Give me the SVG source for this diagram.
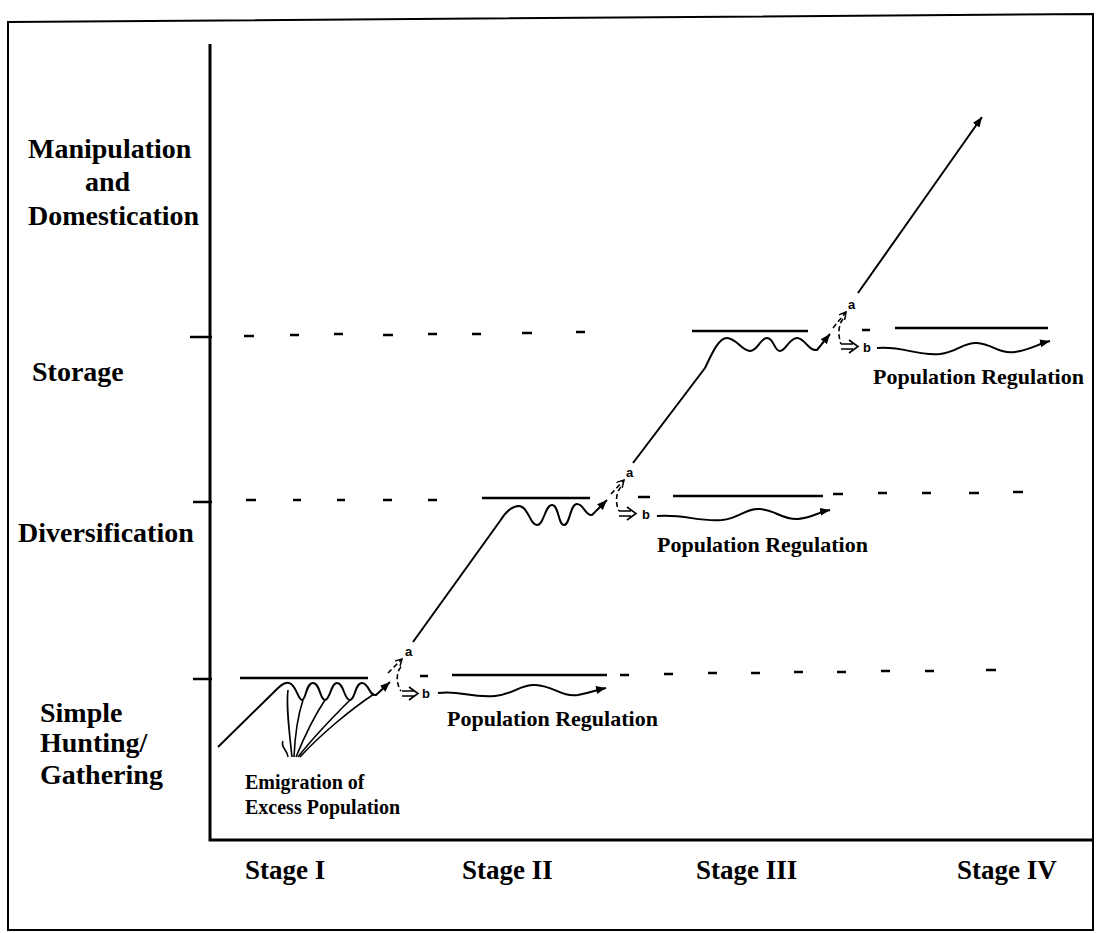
<svg xmlns="http://www.w3.org/2000/svg" width="1097" height="933" viewBox="0 0 1097 933">
<style>
.frame{fill:none;stroke:#000;stroke-width:2}
.axis{fill:none;stroke:#000;stroke-width:3}
.lvl{fill:none;stroke:#000;stroke-width:2.5}
.crv{fill:none;stroke:#000;stroke-width:2}
.thin{fill:none;stroke:#000;stroke-width:1.6}
.dsh{fill:none;stroke:#000;stroke-width:1.6;stroke-dasharray:5,3}
.lab{font-family:"Liberation Serif","Times New Roman",serif;font-weight:bold;font-size:28px;fill:#000}
.stg{font-family:"Liberation Serif","Times New Roman",serif;font-weight:bold;font-size:27px;fill:#000}
.pop{font-family:"Liberation Serif","Times New Roman",serif;font-weight:bold;font-size:22px;fill:#000}
.emi{font-family:"Liberation Serif","Times New Roman",serif;font-weight:bold;font-size:20px;fill:#000}
.ab{font-family:"Liberation Sans",Arial,sans-serif;font-weight:bold;font-size:13px;fill:#000}
</style>
<defs>
<marker id="arr" markerUnits="userSpaceOnUse" markerWidth="12" markerHeight="10" refX="10" refY="4" orient="auto">
<path d="M0,0 L10,4 L0,8 z" fill="#000"/>
</marker>
<marker id="open" markerUnits="userSpaceOnUse" markerWidth="10" markerHeight="10" refX="7" refY="4" orient="auto">
<path d="M0,0 L7,4 L0,8" fill="none" stroke="#000" stroke-width="1.5"/>
</marker>
</defs>
<rect width="1097" height="933" fill="#fff"/>
<g id="frame">
<path class="frame" d="M8,22 L1093,14 L1093,930 L8,930 Z"/>
</g>
<g id="axes">
<path class="axis" d="M210,44 L210,840 L1093,840"/>
<path class="lvl" d="M190,337 L212,337 M193,502 L212,502 M193,679 L212,679"/>
</g>
<g id="levels">
<path class="lvl" d="M244,336 h10 M290,335 h9 M334,334 h9 M383,335 h10 M428,334 h9 M472,334 h9 M522,333 h10 M576,332 h9 M862,330 h8"/>
<path class="lvl" d="M246,500 h10 M293,500 h8 M337,500 h8 M383,500 h9 M428,500 h9 M638,497 h12 M833,494 h10 M878,493 h9 M922,493 h9 M969,493 h10 M1013,492 h10"/>
<path class="lvl" d="M420,676 h8 M620,675 h9 M664,674 h9 M708,673 h9 M751,673 h9 M794,672 h9 M837,672 h9 M881,671 h9 M925,671 h9 M986,670 h10"/>
</g>
<g id="plateaus">
<path class="lvl" d="M240,678 L368,678 M452,675 L607,675"/>
<path class="lvl" d="M482,498 L590,498 M673,496 L823,496"/>
<path class="lvl" d="M692,331 L808,331 M895,328 L1048,328"/>
</g>
<g id="labels">
<text class="lab" x="28" y="158">Manipulation</text>
<text class="lab" x="85" y="191">and</text>
<text class="lab" x="28" y="225">Domestication</text>
<text class="lab" x="32" y="381">Storage</text>
<text class="lab" x="18" y="542">Diversification</text>
<text class="lab" x="40" y="722">Simple</text>
<text class="lab" x="40" y="752">Hunting/</text>
<text class="lab" x="40" y="784">Gathering</text>
<text class="stg" x="245" y="879">Stage I</text>
<text class="stg" x="462" y="879">Stage II</text>
<text class="stg" x="696" y="879">Stage III</text>
<text class="stg" x="957" y="879">Stage IV</text>
</g>
<g id="stage1">
<path class="crv" marker-end="url(#arr)" d="M218,747 L274,692 C280,686 284,682 289,683 C296,684 298,700 302,700 C306,700 306,683 313,683 C320,683 320,700 325,700 C330,700 331,683 337,683 C344,683 344,700 350,700 C355,700 355,683 362,683 C369,683 369,696 376,695 L390,682"/>
<g id="emigration">
<path class="thin" d="M292,757 C289,730 286,705 288,690 M294,757 C295,735 299,712 303,700 M296,757 C305,735 315,715 325,700 M298,757 C315,735 335,715 350,700 M300,757 C320,735 350,710 374,694 M283,741 C280,747 287,749 288,757"/>
<text class="emi" x="245" y="789">Emigration of</text>
<text class="emi" x="245" y="814">Excess Population</text>
</g>
</g>
<g id="stage2">
<path class="crv" marker-end="url(#arr)" d="M413,642 L500,521 C505,513 511,506 519,506 C528,506 530,525 537,525 C544,525 545,505 552,505 C559,505 558,525 564,525 C570,525 570,504 577,504 C584,504 585,516 592,515 L607,500"/>
</g>
<g id="stage3">
<path class="crv" marker-end="url(#arr)" d="M633,463 L705,368 C711,356 718,338 727,338 C736,338 742,351 750,351 C758,351 760,338 767,338 C774,338 774,351 780,351 C786,351 789,338 797,338 C805,338 808,351 817,350 L830,334"/>
</g>
<g id="stage4">
<path class="crv" marker-end="url(#arr)" d="M858,293 L920,205 L982,117"/>
</g>
<g id="branches">
<path class="dsh" marker-end="url(#open)" d="M388,673 L402,659"/>
<text class="ab" x="405" y="656">a</text>
<path class="dsh" d="M401,667 C396,672 396,684 401,691"/>
<path class="thin" d="M402,691 L414,691 M402,696 L414,696 M409,687 L418,693.5 L409,700"/>
<text class="ab" x="422" y="698">b</text>
<path class="crv" marker-end="url(#arr)" d="M438,693 C460,690 470,698 495,696 C515,694 520,684 535,685 C555,686 560,697 578,695 C590,693 596,690 606,688"/>
<text class="pop" x="447" y="726">Population Regulation</text>

<path class="dsh" marker-end="url(#open)" d="M611,494 L624,480"/>
<text class="ab" x="626" y="477">a</text>
<path class="dsh" d="M621,487 C616,492 615,503 619,511"/>
<path class="thin" d="M619,511 L631,511 M619,516 L631,516 M627,507 L636,513.5 L627,520"/>
<text class="ab" x="642" y="519">b</text>
<path class="crv" marker-end="url(#arr)" d="M657,516 C685,514 698,522 722,520 C740,518 745,508 760,509 C776,510 782,520 798,519 C811,518 819,512 830,510"/>
<text class="pop" x="657" y="552">Population Regulation</text>

<path class="dsh" marker-end="url(#open)" d="M833,328 L846,312"/>
<text class="ab" x="848" y="309">a</text>
<path class="dsh" d="M843,319 C838,325 838,336 841,344"/>
<path class="thin" d="M841,344 L853,344 M841,349 L853,349 M849,340 L858,346.5 L849,353"/>
<text class="ab" x="863" y="352">b</text>
<path class="crv" marker-end="url(#arr)" d="M877,348 C905,346 915,356 940,354 C958,352 963,342 977,343 C993,344 998,354 1015,352 C1030,350 1038,344 1050,341"/>
<text class="pop" x="873" y="384">Population Regulation</text>
</g>
</svg>
